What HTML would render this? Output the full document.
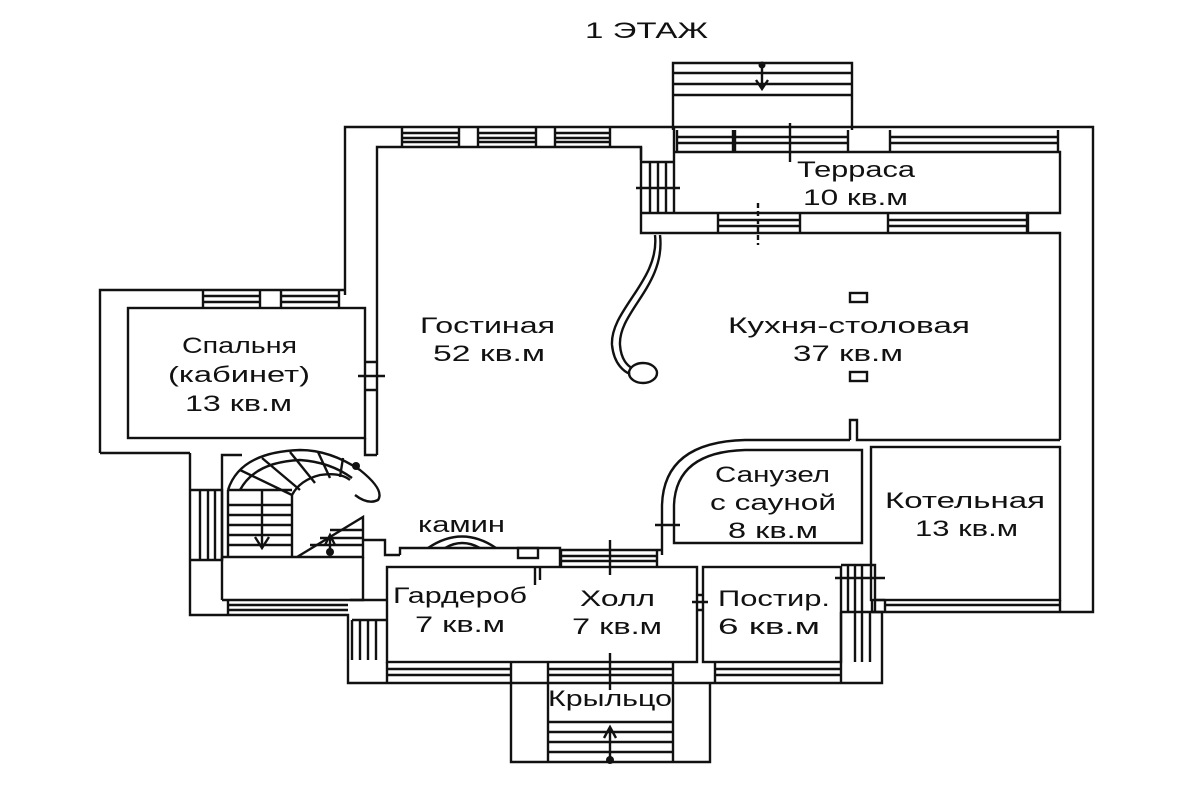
<!DOCTYPE html>
<html><head><meta charset="utf-8"><style>
html,body{margin:0;padding:0;background:#fff;}
svg{display:block}
text{font-family:"Liberation Sans","DejaVu Sans",sans-serif;font-size:22px;fill:#111;}
</style></head><body>
<svg width="1200" height="800" viewBox="0 0 1200 800" xmlns="http://www.w3.org/2000/svg">
<rect width="1200" height="800" fill="#fff"/>
<g fill="none" stroke="#111" stroke-width="2.4">
<!-- top entry steps -->
<path d="M673,130 V63 H852 V130"/>
<path d="M673,73 H852 M673,84 H852 M673,95 H852"/>
<path d="M762,66 V88 M756,80 L762,89 L768,80"/>
<!-- outer top wall -->
<path d="M345,295 V127 H1093 V612 H872"/>
<path d="M377,455 V147 H641 V233 H1060 V440"/>
<path d="M377,147"/>
<!-- top left windows -->
<path d="M402,128 V147 M459,128 V147 M402,133 H459 M402,138 H459 M402,142 H459"/>
<path d="M478,128 V147 M536,128 V147 M478,133 H536 M478,138 H536 M478,142 H536"/>
<path d="M555,128 V147 M610,128 V147 M555,133 H610 M555,138 H610 M555,142 H610"/>
<!-- corner block -->
<path d="M641,147 V160 M674,128 V213 M641,213 H674"/>
<path d="M642,162 H674 M650,162 V213 M658,162 V213 M666,162 V213 M636,188 H680"/>
<!-- terrace top wall -->
<path d="M674,152 H1060 V213 H1028 V233"/>
<path d="M677,130 V152 M733,130 V152 M735,130 V152 M848,130 V152 M890,130 V152 M1058,130 V152"/>
<path d="M677,137 H848 M677,143 H848 M890,137 H1058 M890,143 H1058"/>
<path d="M790,123 V162"/>
<path d="M674,213 H1028"/>
<path d="M718,213 V233 M800,213 V233 M888,213 V233 M1027,213 V233"/>
<path d="M718,220 H800 M718,226 H800 M888,220 H1027 M888,226 H1027"/>
<path d="M758,203 V245" stroke-dasharray="5,3"/>
<!-- curved rail -->
<path d="M655,235 C660,280 610,310 612,345 C614,365 625,372 630,374"/>
<path d="M660,235 C666,285 618,312 620,345 C621,360 628,366 632,368"/>
<ellipse cx="643" cy="373" rx="14" ry="10"/>
<!-- kitchen squares -->
<rect x="850" y="293" width="17" height="9"/>
<rect x="850" y="372" width="17" height="9"/>
<!-- kitchen bottom / kotelnaya -->
<path d="M850,440 V420 H857 V440 H1060"/>
<rect x="871" y="447" width="189" height="153"/>
<path d="M885,600 V612 M1060,600 V612 M885,605 H1060"/>
<path d="M872,600 V612"/>
<!-- sanuzel -->
<path d="M674,543 V505 Q676,452 745,450 H862 V543 Z"/>
<path d="M662,555 V505 Q664,442 745,440 H850"/>
<path d="M655,525 H680"/>
<!-- bedroom -->
<path d="M100,453 V290 H345"/>
<rect x="128" y="308" width="237" height="130"/>
<path d="M203,290 V308 M260,290 V308 M281,290 V308 M339,290 V308"/>
<path d="M203,296 H260 M203,302 H260 M281,296 H339 M281,302 H339"/>
<path d="M365,438 V455 H377 M365,362 H377 M365,390 H377 M358,376 H385"/>
<path d="M100,453 H190"/>
<!-- stair block -->
<path d="M190,453 V615 H348 V683 H882 V662"/>
<path d="M190,490 H222 V560 H190 M200,490 V560 M208,490 V560 M215,490 V560"/>
<path d="M222,560 V455 H242"/>
<path d="M228,557 V490 M228,490 Q240,452 300,450 Q330,450 360,470 Q385,490 378,500 Q368,505 355,495"/>
<path d="M240,490 Q255,462 300,460 Q330,462 352,478"/>
<path d="M292,557 V495 Q300,480 320,475 Q340,472 350,480"/>
<path d="M228,505 H292 M228,515 H292 M228,525 H292 M228,535 H292 M228,545 H292"/>
<path d="M228,490 H292 M240,470 L292,495 M262,458 L300,490 M290,452 L315,483 M318,452 L330,478 M343,458 L340,477"/>
<path d="M262,490 V545 M255,537 L262,548 L269,537"/>
<path d="M222,557 H363 V517 L297,557"/>
<path d="M310,545 H363 M320,538 H363 M330,530 H363"/>
<path d="M330,535 V550 M325,545 L330,535 L335,545"/>
<path d="M222,557 V600 M363,557 V600 H222"/>
<path d="M228,600 V615 M228,605 H348 M228,610 H348"/>
<!-- left of hall -->
<path d="M363,540 H385 V555 H400"/>
<path d="M350,600 H387 M352,620 V660 M360,620 V660 M368,620 V660 M376,620 V660 M352,620 H387"/>
<!-- fireplace -->
<path d="M400,555 V548 H560 V567"/>
<path d="M428,548 Q462,525 496,548"/>
<path d="M445,548 Q462,538 480,548"/>
<rect x="518" y="548" width="20" height="10"/>
<!-- hall wall/windows -->
<path d="M560,550 H662 M561,550 V567 M657,550 V567 M561,556 H657 M561,561 H657 M610,540 V575"/>
<path d="M535,567 V585 M540,567 V580"/>
<!-- hall, postir -->
<rect x="387" y="567" width="310" height="95"/>
<rect x="703" y="567" width="138" height="95"/>
<path d="M697,595 H703 M697,610 H703 M692,602 H708"/>
<path d="M841,565 H875 V612 M848,565 V612 M855,565 V612 M862,565 V612 M835,578 H885"/>
<path d="M841,612 V662 M855,612 V662 M862,612 V662 M870,612 V662 M841,612 H882 V662"/>
<path d="M875,600 H885"/>
<!-- bottom wall windows -->
<path d="M387,662 V683 M511,662 V683 M387,669 H511 M387,675 H511"/>
<path d="M715,662 V683 M841,662 V683 M715,669 H841 M715,675 H841"/>
<path d="M548,662 V683 M673,662 V683 M548,669 H673 M548,675 H673"/>
<!-- porch -->
<path d="M511,683 V762 H710 V683"/>
<path d="M548,683 V762 M673,683 V762"/>
<path d="M548,722 H673 M548,732 H673 M548,742 H673 M548,752 H673"/>
<path d="M610,653 V690 M610,760 V727 M604,738 L610,727 L616,738"/>
</g>
<circle cx="762" cy="65" r="3.5" fill="#111"/>
<circle cx="356" cy="466" r="4" fill="#111"/>
<circle cx="330" cy="552" r="4" fill="#111"/>
<circle cx="610" cy="760" r="4" fill="#111"/>
<g>
<text x="585" y="38" textLength="123" lengthAdjust="spacingAndGlyphs">1 ЭТАЖ</text>
<text x="797" y="177" textLength="118" lengthAdjust="spacingAndGlyphs">Терраса</text>
<text x="803" y="205" textLength="105" lengthAdjust="spacingAndGlyphs">10 кв.м</text>
<text x="420" y="333" textLength="135" lengthAdjust="spacingAndGlyphs">Гостиная</text>
<text x="433" y="361" textLength="112" lengthAdjust="spacingAndGlyphs">52 кв.м</text>
<text x="728" y="333" textLength="242" lengthAdjust="spacingAndGlyphs">Кухня-столовая</text>
<text x="793" y="361" textLength="110" lengthAdjust="spacingAndGlyphs">37 кв.м</text>
<text x="182" y="353" textLength="115" lengthAdjust="spacingAndGlyphs">Спальня</text>
<text x="168" y="382" textLength="142" lengthAdjust="spacingAndGlyphs">(кабинет)</text>
<text x="185" y="411" textLength="107" lengthAdjust="spacingAndGlyphs">13 кв.м</text>
<text x="715" y="482" textLength="115" lengthAdjust="spacingAndGlyphs">Санузел</text>
<text x="710" y="510" textLength="126" lengthAdjust="spacingAndGlyphs">с сауной</text>
<text x="728" y="538" textLength="90" lengthAdjust="spacingAndGlyphs">8 кв.м</text>
<text x="885" y="508" textLength="160" lengthAdjust="spacingAndGlyphs">Котельная</text>
<text x="915" y="536" textLength="103" lengthAdjust="spacingAndGlyphs">13 кв.м</text>
<text x="418" y="532" textLength="87" lengthAdjust="spacingAndGlyphs">камин</text>
<text x="393" y="603" textLength="134" lengthAdjust="spacingAndGlyphs">Гардероб</text>
<text x="415" y="632" textLength="90" lengthAdjust="spacingAndGlyphs">7 кв.м</text>
<text x="580" y="606" textLength="75" lengthAdjust="spacingAndGlyphs">Холл</text>
<text x="572" y="634" textLength="90" lengthAdjust="spacingAndGlyphs">7 кв.м</text>
<text x="718" y="606" textLength="112" lengthAdjust="spacingAndGlyphs">Постир.</text>
<text x="718" y="634" textLength="102" lengthAdjust="spacingAndGlyphs">6 кв.м</text>
<text x="548" y="706" textLength="124" lengthAdjust="spacingAndGlyphs">Крыльцо</text>
</g>
</svg>
</body></html>
